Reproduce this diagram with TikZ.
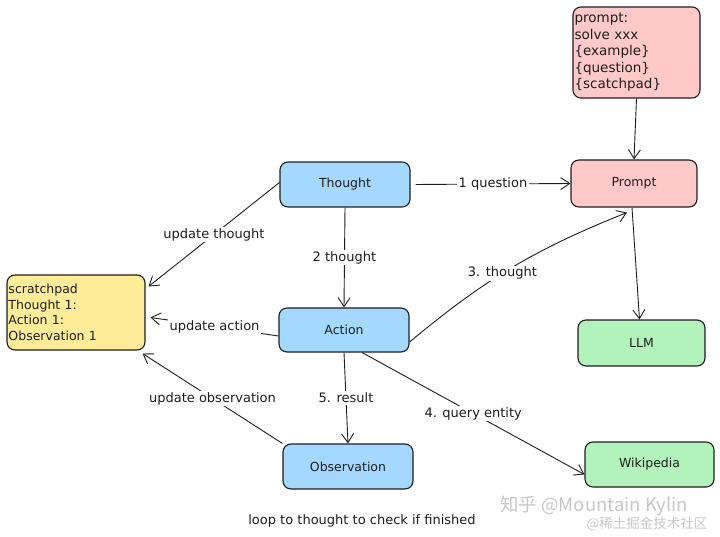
\documentclass[tikz,border=0pt]{standalone}
\usepackage{fontspec}
\setmainfont{DejaVu Sans}
\newfontfamily\cjkfont{Noto Sans CJK SC}
\usetikzlibrary{arrows.meta}
\definecolor{ink}{HTML}{1E1E1E}
\definecolor{bluefill}{HTML}{A5D8FF}
\definecolor{pinkfill}{HTML}{FFC9C9}
\definecolor{greenfill}{HTML}{B2F2BB}
\definecolor{yellowfill}{HTML}{FFEC99}
\definecolor{wmgray}{HTML}{C8C8C8}
\tikzset{
  box/.style={draw=ink, line width=1.1pt, rounded corners=8pt, minimum width=130pt, minimum height=45pt, inner sep=3pt, text=ink, font=\fontsize{12.5}{14}\selectfont},
  bluebox/.style={box, fill=bluefill},
  pinkbox/.style={box, fill=pinkfill},
  greenbox/.style={box, fill=greenfill},
  yellowbox/.style={box, fill=yellowfill},
  conn/.style={draw=ink, line width=0.9pt, -{Straight Barb[length=9pt,width=12pt]}},
  lbl/.style={fill=white, inner sep=1.5pt, text=ink, font=\fontsize{13}{14}\selectfont}
}
\begin{document}
\begin{tikzpicture}[x=1pt,y=-1pt]
\useasboundingbox[fill=white] (0,0) rectangle (720,537);
% nodes
\node[pinkbox, minimum width=127pt, minimum height=91pt, align=left, text width=124pt, font=\fontsize{13.5}{16.5}\selectfont, inner sep=1.5pt] (tpl) at (636.5,52.5) {prompt:\\solve xxx\\\{example\}\\\{question\}\\\{scatchpad\}};
\node[pinkbox, minimum width=126pt, minimum height=47pt] (prompt) at (634,183.5) {Prompt};
\node[bluebox] (thought) at (345,184.5) {Thought};
\node[bluebox, minimum height=44pt] (action) at (344,330) {Action};
\node[bluebox] (obs) at (348,466.5) {Observation};
\node[yellowbox, minimum width=138pt, minimum height=75pt, align=left, text width=135pt, font=\fontsize{12.5}{15.5}\selectfont, inner sep=1.5pt] (scratch) at (76,312.5) {scratchpad\\Thought 1:\\Action 1:\\Observation 1};
\node[greenbox, minimum width=127pt, minimum height=46pt] (llm) at (641.5,343) {LLM};
\node[greenbox, minimum width=129pt] (wiki) at (649.5,464.5) {Wikipedia};
% connectors
\draw[conn] (tpl.south) -- (prompt.north);
\draw[conn] ([xshift=5pt]thought.east) -- node[lbl] {1 question} (prompt.west);
\draw[conn] (thought.south) -- node[lbl] {2 thought} (action.north);
\draw[conn] ([yshift=-12pt]action.east) to[bend left=9] node[lbl, pos=0.45] {3. thought} ([xshift=-7pt,yshift=-5pt]prompt.south);
\draw[conn] ([xshift=-2pt]prompt.south) -- ([xshift=-2pt]llm.north);
\draw[conn] ([yshift=2pt]thought.west) -- node[lbl] {update thought} ([xshift=3pt,yshift=26pt]scratch.east);
\draw[conn] ([yshift=-6pt]action.west) -- node[lbl] {update action} ([xshift=5pt,yshift=-5pt]scratch.east);
\draw[conn] (obs.north west) -- node[lbl] {update observation} ([xshift=-3pt,yshift=-3pt]scratch.south east);
\draw[conn] (action.south) -- node[lbl] {5. result} (obs.north);
\draw[conn] ([xshift=18pt]action.south) -- node[lbl] {4. query entity} ([yshift=-10pt]wiki.west);
% free text
\node[text=ink, font=\fontsize{13}{14}\selectfont] (loop) at (362,521) {loop to thought to check if finished};
\node[text=wmgray, font=\cjkfont\fontsize{18.5}{20}\selectfont] (wm1) at (594,506) {知乎 @Mountain Kylin};
\node[text=wmgray, font=\cjkfont\fontsize{13.5}{15}\selectfont] (wm2) at (647,524) {@稀土掘金技术社区};
\end{tikzpicture}
\end{document}
